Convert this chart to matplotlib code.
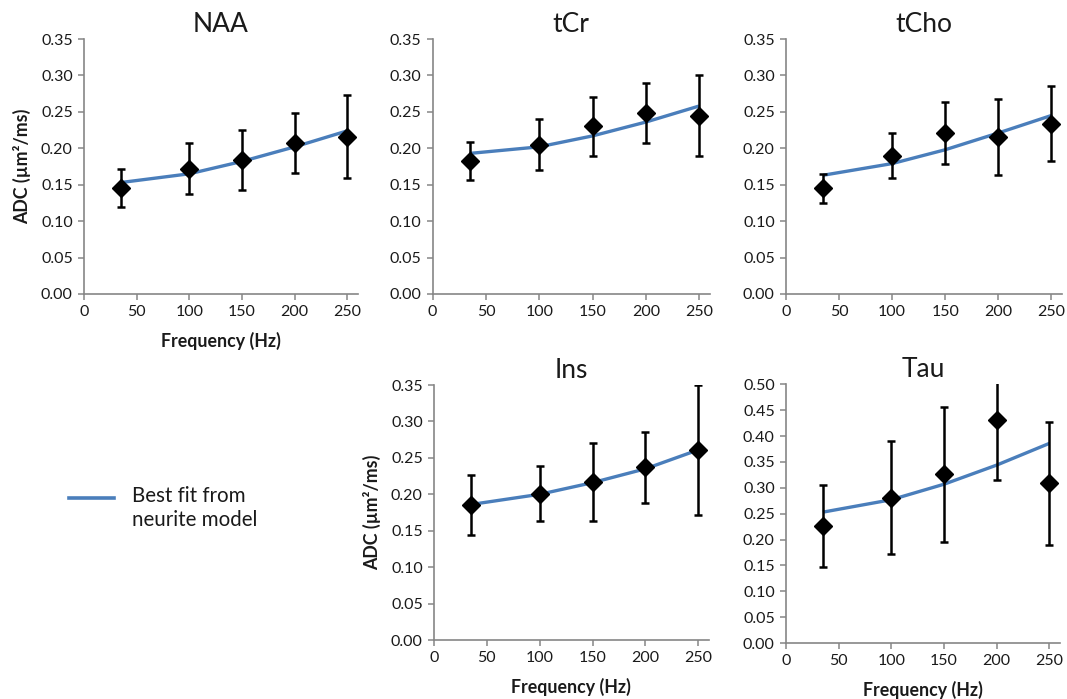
import matplotlib
matplotlib.use("Agg")
import numpy as np
from matplotlib import pyplot as plt


plt.rcParams["font.family"] = ["Lato", "DejaVu Sans"]

FREQ = [35, 100, 150, 200, 250]

NAA_MEAN = [0.145, 0.172, 0.184, 0.207, 0.216]
NAA_SD = [0.026, 0.035, 0.041, 0.041, 0.057]
NAA_FIT = [0.153, 0.165, 0.182, 0.202, 0.224]

TCR_MEAN = [0.182, 0.205, 0.230, 0.248, 0.245]
TCR_SD = [0.026, 0.035, 0.040, 0.041, 0.056]
TCR_FIT = [0.193, 0.202, 0.217, 0.236, 0.258]

TCHO_MEAN = [0.145, 0.190, 0.221, 0.216, 0.234]
TCHO_SD = [0.020, 0.031, 0.042, 0.052, 0.052]
TCHO_FIT = [0.163, 0.179, 0.198, 0.221, 0.245]

INS_MEAN = [0.185, 0.201, 0.217, 0.237, 0.261]
INS_SD = [0.041, 0.038, 0.053, 0.049, 0.089]
INS_FIT = [0.186, 0.200, 0.216, 0.235, 0.261]

TAU_MEAN = [0.226, 0.281, 0.326, 0.431, 0.309]
TAU_SD = [0.079, 0.109, 0.131, 0.116, 0.119]
TAU_FIT = [0.253, 0.277, 0.307, 0.344, 0.386]

X_TICKS = [0, 50, 100, 150, 200, 250]

FIT_COLOR = "#4a7ebb"
SPINE_COLOR = "#868686"
TEXT_COLOR = "#1a1a1a"


def draw_panel(fig, rect, title, mean, sd, fit, ymax, ystep, xlabel=False, ylabel=False):
	ax = fig.add_axes(rect)
	ax.plot(FREQ, fit, color=FIT_COLOR, lw=2.4, zorder=2, solid_capstyle="butt")
	ax.errorbar(FREQ, mean, yerr=sd, fmt="D", color="black", ms=9,
	            ecolor="black", elinewidth=1.8, capsize=3.2, capthick=1.8, zorder=3)
	ax.set_xlim(0, 260)
	ax.set_ylim(0, ymax)
	ax.set_xticks(X_TICKS)
	ax.set_yticks(np.arange(0, ymax + ystep / 2, ystep))
	ax.yaxis.set_major_formatter(matplotlib.ticker.FormatStrFormatter("%.2f"))
	for side in ("top", "right"):
		ax.spines[side].set_visible(False)
	for side in ("left", "bottom"):
		ax.spines[side].set_color(SPINE_COLOR)
		ax.spines[side].set_linewidth(1.2)
	ax.tick_params(direction="out", length=4, width=1.1, color=SPINE_COLOR,
	               labelsize=11.5, labelcolor=TEXT_COLOR, pad=4)
	ax.set_title(title, fontsize=19, color=TEXT_COLOR, pad=5)
	if xlabel:
		ax.set_xlabel("Frequency (Hz)", fontsize=12.8, fontweight="bold", color=TEXT_COLOR, labelpad=9)
	if ylabel:
		ax.set_ylabel("ADC (µm²/ms)", fontsize=12.8, fontweight="bold", color=TEXT_COLOR, labelpad=7)
	return ax


def main():
	fig = plt.figure(figsize=(10.67, 6.99), dpi=100)

	draw_panel(fig, [0.0787, 0.5794, 0.2568, 0.3648], "NAA", NAA_MEAN, NAA_SD, NAA_FIT,
	           0.35, 0.05, xlabel=True, ylabel=True)
	draw_panel(fig, [0.4055, 0.5794, 0.2597, 0.3648], "tCr", TCR_MEAN, TCR_SD, TCR_FIT,
	           0.35, 0.05)
	draw_panel(fig, [0.7366, 0.5794, 0.2587, 0.3648], "tCho", TCHO_MEAN, TCHO_SD, TCHO_FIT,
	           0.35, 0.05)
	draw_panel(fig, [0.4067, 0.0844, 0.2577, 0.3648], "Ins", INS_MEAN, INS_SD, INS_FIT,
	           0.35, 0.05, xlabel=True, ylabel=True)
	draw_panel(fig, [0.7366, 0.0801, 0.2568, 0.3700], "Tau", TAU_MEAN, TAU_SD, TAU_FIT,
	           0.50, 0.05, xlabel=True)

	# legend drawn by hand in the empty lower-left slot
	fig.lines.append(plt.Line2D([69 / 1067, 114 / 1067], [1 - 498 / 699, 1 - 498 / 699],
	                            color=FIT_COLOR, lw=2.6, transform=fig.transFigure))
	fig.text(132 / 1067, 1 - 508 / 699, "Best fit from\nneurite model", fontsize=14.8,
	         color=TEXT_COLOR, va="center", ha="left", linespacing=1.3)

	fig.savefig("out.png", dpi=100)
	plt.close(fig)


if __name__ == "__main__":
	main()
